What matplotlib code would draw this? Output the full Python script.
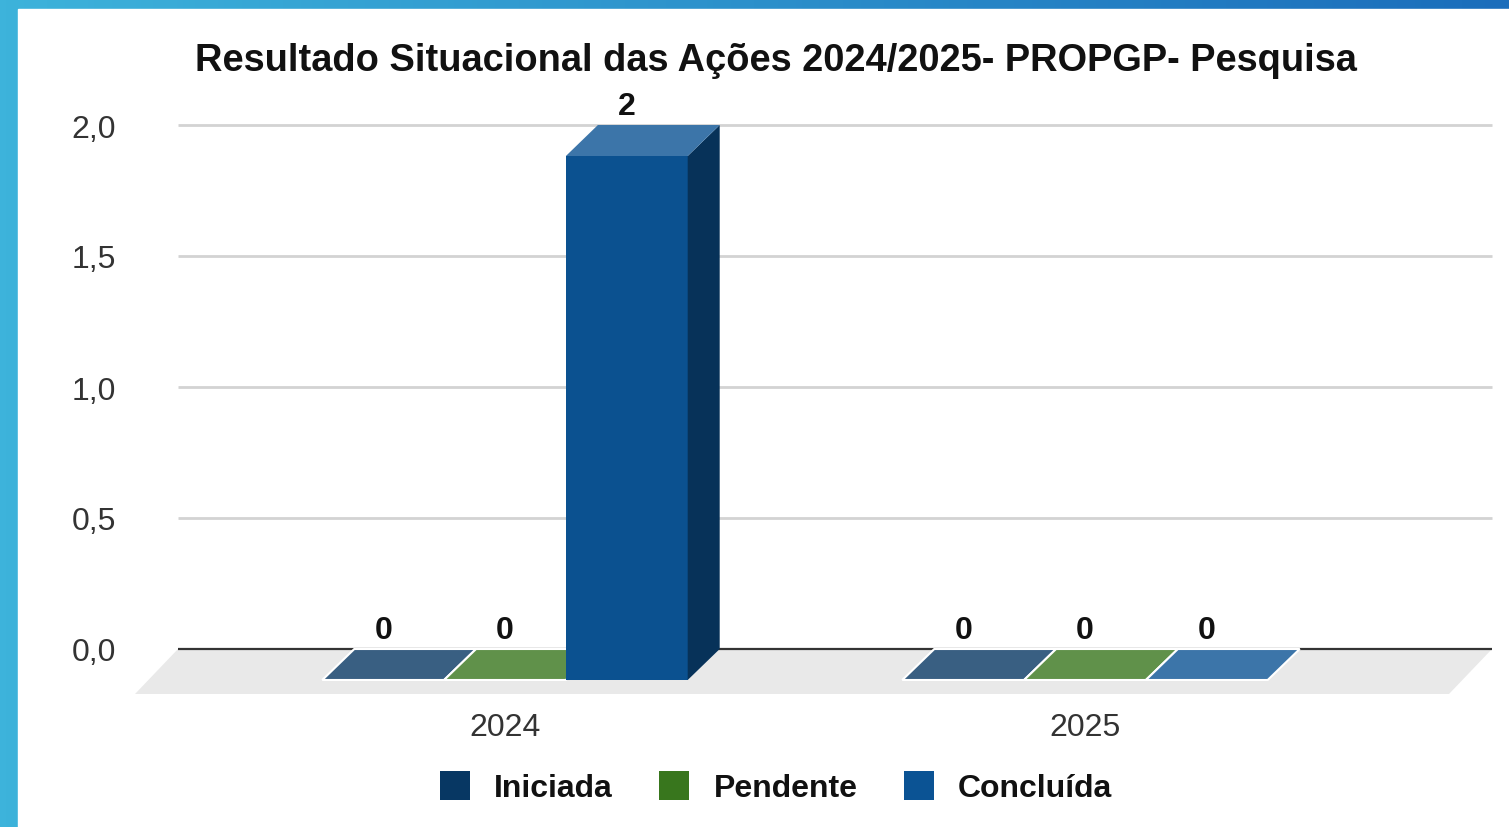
import numpy as np
import matplotlib
matplotlib.use('Agg')
import matplotlib.pyplot as plt
from matplotlib.patches import Polygon, Rectangle, Patch
from matplotlib.colors import LinearSegmentedColormap, to_rgb

plt.rcParams['font.family'] = ['Liberation Sans', 'DejaVu Sans']

# dados
anos = ['2024', '2025']
series = ['Iniciada', 'Pendente', 'Concluída']
iniciada = [0, 0]
pendente = [0, 0]
concluida = [2, 0]
cores = ['#073763', '#38761d', '#0b5394']
yticks = [0.0, 0.5, 1.0, 1.5, 2.0]
titulo = 'Resultado Situacional das Ações 2024/2025- PROPGP- Pesquisa'

W, H = 1509, 828
fig = plt.figure(figsize=(W / 100, H / 100), dpi=100)

# moldura azul (faixa esquerda e superior)
bg = fig.add_axes([0, 0, 1, 1])
cmap = LinearSegmentedColormap.from_list('moldura', ['#3db3db', '#1b6dbb'])
bg.imshow(np.linspace(0, 1, 256).reshape(1, -1), cmap=cmap, aspect='auto', extent=[0, W, 0, H])
bg.add_patch(Rectangle((18, 0), W - 18, H - 10, color='white'))
bg.set_xlim(0, W)
bg.set_ylim(0, H)
bg.axis('off')

# eixo principal (em px: x 130..1500, y 100..710)
ax = fig.add_axes([130 / W, (H - 710) / H, 1370 / W, 610 / H])
ax.set_xlim((130 - 505) / 580, (1500 - 505) / 580)
ax.set_ylim((650 - 710) / 262, (650 - 100) / 262)
for s in ax.spines.values():
    s.set_visible(False)
ax.patch.set_alpha(0)

largura = 0.21          # largura da barra (unidades de grupo)
dx, dy = 32 / 580, 31 / 262   # profundidade 3D
gx0, gx1 = (178 - 505) / 580, (1492 - 505) / 580  # plano de fundo

# piso cinza
fdx, fdy = 43 / 580, 45 / 262
ax.add_patch(Polygon([(gx0, 0), (gx1, 0), (gx1 - fdx, -fdy), (gx0 - fdx, -fdy)],
                     closed=True, facecolor='#e9e9e9', edgecolor='none', zorder=1))

# linhas de grade
ax.hlines(yticks[1:], gx0, gx1, color='#d3d3d3', lw=2, zorder=2)
ax.hlines([0], gx0, gx1, color='#333333', lw=1.6, zorder=2)


def clarear(c, f):
    r = np.array(to_rgb(c))
    return tuple(r + (1 - r) * f)


def escurecer(c, f):
    return tuple(np.array(to_rgb(c)) * f)


valores = [iniciada, pendente, concluida]
for g in range(len(anos)):
    for i, (vals, cor) in enumerate(zip(valores, cores)):
        v = vals[g]
        xc = g + (i - 1) * largura
        x0, x1 = xc - largura / 2, xc + largura / 2
        z = 5 + i * 0.1  # barras da direita cobrem as da esquerda
        if v > 0:
            # frente
            ax.add_patch(Polygon([(x0, -dy), (x1, -dy), (x1, v - dy), (x0, v - dy)],
                                 closed=True, facecolor=escurecer(cor, 0.97), edgecolor='none', zorder=z))
            # lateral
            ax.add_patch(Polygon([(x1, -dy), (x1 + dx, 0), (x1 + dx, v), (x1, v - dy)],
                                 closed=True, facecolor=escurecer(cor, 0.6), edgecolor='none', zorder=z))
            ec, lw = 'none', 0
        else:
            ec, lw = 'white', 1.5
        # topo
        ax.add_patch(Polygon([(x0, v - dy), (x1, v - dy), (x1 + dx, v), (x0 + dx, v)],
                             closed=True, facecolor=clarear(cor, 0.2), edgecolor=ec, lw=lw, zorder=z + 0.05))
        ax.annotate(str(v), (xc, v), xytext=(0, 3), textcoords='offset points',
                    ha='center', va='bottom', fontsize=23, fontweight='bold', color='#111111', zorder=7)

ax.set_yticks(yticks)
ax.set_yticklabels([f'{t:.1f}'.replace('.', ',') for t in yticks], fontsize=23, color='#333333')
ax.set_xticks(range(len(anos)))
ax.set_xticklabels(anos, fontsize=23, color='#333333')
ax.tick_params(length=0)
ax.tick_params(axis='y', pad=10)
ax.tick_params(axis='x', pad=2)
for t in ax.get_yticklabels():
    t.set_va('center_baseline')

fig.text(776 / W, 1 - 61 / H, titulo, ha='center', va='center', fontsize=27.4, fontweight='bold', color='#111111')

handles = [Patch(facecolor=c, edgecolor='none') for c in cores]
leg = fig.legend(handles, series, loc='center', bbox_to_anchor=(776 / W, 1 - 788 / H), ncol=3, frameon=False,
                 prop={'size': 23, 'weight': 'bold'}, handlelength=0.95, handleheight=1.05,
                 handletextpad=0.75, columnspacing=1.45)
for t in leg.get_texts():
    t.set_color('#111111')

fig.savefig('out.png', dpi=100)
